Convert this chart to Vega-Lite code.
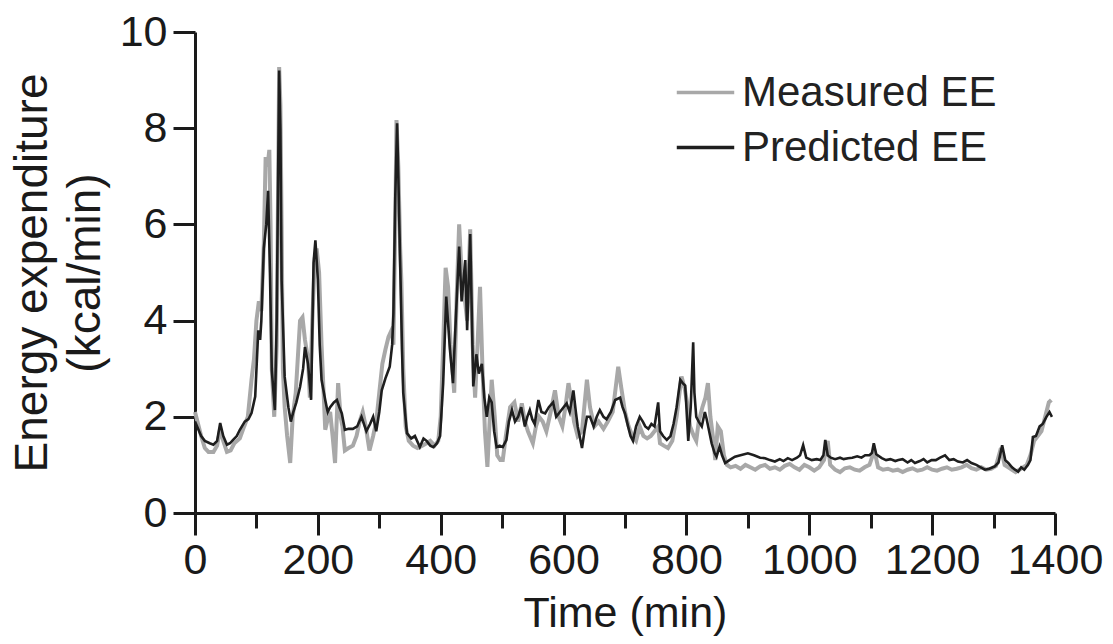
{
  "$schema": "https://vega.github.io/schema/vega-lite/v6.json",
  "width": 860,
  "height": 481,
  "autosize": "none",
  "padding": {"left": 195, "top": 32, "right": 58, "bottom": 131},
  "background": "white",
  "config": {
    "view": {"stroke": null},
    "font": "Liberation Sans",
    "axis": {"grid": false, "domainColor": "#1a1a1a", "domainWidth": 3, "tickColor": "#1a1a1a", "tickWidth": 3, "labelColor": "#1a1a1a", "titleColor": "#1a1a1a", "labelFont": "Liberation Sans", "titleFont": "Liberation Sans", "titleFontWeight": "normal"}
  },
  "datasets": {
    "measured": [
      {"t":0,"ee":2.1},{"t":4,"ee":1.9},{"t":10,"ee":1.6},{"t":16,"ee":1.35},{"t":22,"ee":1.27},{"t":30,"ee":1.27},{"t":36,"ee":1.4},{"t":41,"ee":1.75},{"t":46,"ee":1.5},{"t":52,"ee":1.27},{"t":58,"ee":1.3},{"t":64,"ee":1.45},{"t":73,"ee":1.55},{"t":80,"ee":1.8},{"t":86,"ee":2.0},{"t":92,"ee":2.77},{"t":96,"ee":3.2},{"t":100,"ee":4.0},{"t":104,"ee":4.4},{"t":108,"ee":4.2},{"t":112,"ee":5.6},{"t":115,"ee":7.4},{"t":118,"ee":7.2},{"t":121,"ee":7.55},{"t":123,"ee":6.0},{"t":125,"ee":3.0},{"t":129,"ee":2.0},{"t":133,"ee":3.5},{"t":137,"ee":9.27},{"t":139,"ee":8.5},{"t":141,"ee":6.0},{"t":143,"ee":3.0},{"t":146,"ee":2.2},{"t":150,"ee":1.6},{"t":155,"ee":1.04},{"t":159,"ee":2.0},{"t":164,"ee":2.5},{"t":171,"ee":4.0},{"t":175,"ee":4.07},{"t":179,"ee":3.6},{"t":184,"ee":3.2},{"t":187,"ee":2.4},{"t":191,"ee":4.0},{"t":195,"ee":5.3},{"t":198,"ee":5.5},{"t":202,"ee":5.0},{"t":206,"ee":3.5},{"t":212,"ee":1.73},{"t":217,"ee":2.0},{"t":220,"ee":2.1},{"t":224,"ee":1.6},{"t":228,"ee":1.04},{"t":233,"ee":2.7},{"t":237,"ee":2.0},{"t":240,"ee":1.8},{"t":244,"ee":1.3},{"t":250,"ee":1.35},{"t":257,"ee":1.4},{"t":263,"ee":1.6},{"t":268,"ee":1.9},{"t":273,"ee":2.1},{"t":278,"ee":1.8},{"t":284,"ee":1.3},{"t":290,"ee":1.6},{"t":295,"ee":1.9},{"t":300,"ee":2.5},{"t":305,"ee":3.1},{"t":310,"ee":3.4},{"t":315,"ee":3.66},{"t":320,"ee":3.8},{"t":323,"ee":3.5},{"t":326,"ee":6.0},{"t":328,"ee":8.17},{"t":331,"ee":7.2},{"t":334,"ee":5.5},{"t":336,"ee":4.8},{"t":339,"ee":3.0},{"t":343,"ee":1.8},{"t":348,"ee":1.5},{"t":355,"ee":1.4},{"t":362,"ee":1.35},{"t":370,"ee":1.4},{"t":377,"ee":1.45},{"t":383,"ee":1.5},{"t":390,"ee":1.4},{"t":396,"ee":1.5},{"t":400,"ee":2.0},{"t":404,"ee":3.5},{"t":408,"ee":5.1},{"t":412,"ee":4.7},{"t":416,"ee":3.5},{"t":422,"ee":2.5},{"t":426,"ee":4.5},{"t":430,"ee":6.0},{"t":434,"ee":5.0},{"t":438,"ee":4.6},{"t":443,"ee":4.0},{"t":448,"ee":5.9},{"t":452,"ee":3.5},{"t":456,"ee":2.4},{"t":460,"ee":3.5},{"t":464,"ee":4.7},{"t":468,"ee":3.0},{"t":472,"ee":1.7},{"t":476,"ee":0.96},{"t":480,"ee":2.0},{"t":483,"ee":2.77},{"t":488,"ee":2.0},{"t":492,"ee":1.2},{"t":497,"ee":1.1},{"t":501,"ee":1.1},{"t":506,"ee":1.6},{"t":513,"ee":2.2},{"t":520,"ee":2.3},{"t":526,"ee":1.9},{"t":532,"ee":2.28},{"t":537,"ee":1.9},{"t":542,"ee":1.7},{"t":550,"ee":1.45},{"t":555,"ee":1.8},{"t":560,"ee":2.0},{"t":566,"ee":1.9},{"t":572,"ee":1.7},{"t":579,"ee":2.1},{"t":586,"ee":2.55},{"t":592,"ee":2.0},{"t":598,"ee":1.8},{"t":603,"ee":2.2},{"t":608,"ee":2.7},{"t":613,"ee":2.3},{"t":617,"ee":1.9},{"t":623,"ee":1.6},{"t":630,"ee":1.7},{"t":638,"ee":2.77},{"t":643,"ee":2.2},{"t":650,"ee":1.8},{"t":657,"ee":1.9},{"t":665,"ee":1.75},{"t":672,"ee":1.9},{"t":680,"ee":2.1},{"t":689,"ee":3.04},{"t":694,"ee":2.6},{"t":700,"ee":2.1},{"t":706,"ee":1.8},{"t":712,"ee":1.6},{"t":718,"ee":1.5},{"t":724,"ee":1.8},{"t":730,"ee":1.6},{"t":736,"ee":1.55},{"t":742,"ee":1.6},{"t":748,"ee":1.7},{"t":754,"ee":1.8},{"t":757,"ee":1.45},{"t":763,"ee":1.4},{"t":770,"ee":1.35},{"t":777,"ee":1.5},{"t":784,"ee":2.0},{"t":792,"ee":2.84},{"t":797,"ee":2.6},{"t":801,"ee":2.3},{"t":806,"ee":1.8},{"t":812,"ee":1.6},{"t":816,"ee":1.5},{"t":820,"ee":1.9},{"t":826,"ee":2.2},{"t":831,"ee":2.4},{"t":835,"ee":2.7},{"t":839,"ee":2.0},{"t":843,"ee":1.6},{"t":847,"ee":1.1},{"t":851,"ee":1.8},{"t":856,"ee":1.7},{"t":861,"ee":1.2},{"t":866,"ee":1.0},{"t":872,"ee":0.95},{"t":880,"ee":0.98},{"t":888,"ee":0.92},{"t":896,"ee":1.0},{"t":904,"ee":0.95},{"t":912,"ee":0.9},{"t":920,"ee":0.97},{"t":928,"ee":1.0},{"t":936,"ee":0.92},{"t":944,"ee":0.95},{"t":952,"ee":0.9},{"t":960,"ee":0.98},{"t":968,"ee":1.02},{"t":976,"ee":0.95},{"t":984,"ee":0.9},{"t":992,"ee":1.0},{"t":1000,"ee":0.95},{"t":1008,"ee":0.88},{"t":1016,"ee":0.95},{"t":1024,"ee":1.1},{"t":1030,"ee":1.5},{"t":1034,"ee":1.0},{"t":1042,"ee":0.9},{"t":1050,"ee":0.85},{"t":1058,"ee":0.93},{"t":1066,"ee":0.95},{"t":1074,"ee":0.9},{"t":1082,"ee":0.88},{"t":1090,"ee":0.95},{"t":1098,"ee":1.0},{"t":1106,"ee":1.3},{"t":1112,"ee":0.95},{"t":1120,"ee":0.9},{"t":1128,"ee":0.92},{"t":1136,"ee":0.88},{"t":1144,"ee":0.9},{"t":1152,"ee":0.85},{"t":1160,"ee":0.9},{"t":1168,"ee":0.93},{"t":1176,"ee":0.88},{"t":1184,"ee":0.9},{"t":1192,"ee":0.95},{"t":1200,"ee":0.9},{"t":1208,"ee":0.88},{"t":1216,"ee":0.92},{"t":1224,"ee":0.95},{"t":1232,"ee":0.9},{"t":1240,"ee":0.92},{"t":1248,"ee":0.95},{"t":1256,"ee":1.0},{"t":1264,"ee":0.93},{"t":1272,"ee":0.9},{"t":1280,"ee":0.95},{"t":1288,"ee":0.9},{"t":1296,"ee":0.92},{"t":1304,"ee":0.98},{"t":1312,"ee":1.35},{"t":1318,"ee":1.0},{"t":1324,"ee":0.95},{"t":1330,"ee":0.9},{"t":1336,"ee":0.85},{"t":1342,"ee":0.9},{"t":1348,"ee":0.95},{"t":1354,"ee":1.0},{"t":1360,"ee":1.2},{"t":1366,"ee":1.5},{"t":1372,"ee":1.6},{"t":1378,"ee":1.7},{"t":1384,"ee":2.0},{"t":1390,"ee":2.3},{"t":1394,"ee":2.35}
    ],
    "predicted": [
      {"t":0,"ee":1.9},{"t":5,"ee":1.75},{"t":10,"ee":1.6},{"t":16,"ee":1.5},{"t":24,"ee":1.45},{"t":30,"ee":1.42},{"t":36,"ee":1.5},{"t":41,"ee":1.87},{"t":46,"ee":1.6},{"t":52,"ee":1.42},{"t":57,"ee":1.45},{"t":62,"ee":1.52},{"t":68,"ee":1.6},{"t":73,"ee":1.73},{"t":81,"ee":1.9},{"t":87,"ee":1.95},{"t":92,"ee":2.08},{"t":98,"ee":2.42},{"t":103,"ee":3.8},{"t":106,"ee":3.6},{"t":108,"ee":4.0},{"t":112,"ee":5.5},{"t":116,"ee":6.0},{"t":119,"ee":6.7},{"t":122,"ee":5.0},{"t":125,"ee":2.97},{"t":130,"ee":2.14},{"t":133,"ee":4.0},{"t":137,"ee":9.2},{"t":139,"ee":8.0},{"t":141,"ee":4.84},{"t":146,"ee":2.83},{"t":152,"ee":2.2},{"t":156,"ee":1.9},{"t":160,"ee":2.1},{"t":165,"ee":2.3},{"t":171,"ee":2.62},{"t":176,"ee":3.0},{"t":179,"ee":3.45},{"t":184,"ee":3.1},{"t":189,"ee":2.35},{"t":193,"ee":5.2},{"t":196,"ee":5.67},{"t":200,"ee":4.85},{"t":203,"ee":3.5},{"t":206,"ee":2.77},{"t":212,"ee":2.35},{"t":216,"ee":2.1},{"t":220,"ee":2.2},{"t":226,"ee":2.3},{"t":231,"ee":2.35},{"t":235,"ee":2.2},{"t":239,"ee":2.07},{"t":244,"ee":1.73},{"t":250,"ee":1.75},{"t":257,"ee":1.75},{"t":264,"ee":1.8},{"t":271,"ee":2.0},{"t":279,"ee":1.7},{"t":285,"ee":1.85},{"t":290,"ee":2.0},{"t":295,"ee":1.7},{"t":300,"ee":2.1},{"t":304,"ee":2.55},{"t":310,"ee":2.8},{"t":317,"ee":3.04},{"t":321,"ee":3.5},{"t":323,"ee":4.15},{"t":326,"ee":6.57},{"t":329,"ee":8.1},{"t":331,"ee":7.0},{"t":334,"ee":5.2},{"t":337,"ee":3.4},{"t":339,"ee":2.5},{"t":345,"ee":1.66},{"t":352,"ee":1.55},{"t":358,"ee":1.6},{"t":366,"ee":1.37},{"t":372,"ee":1.55},{"t":377,"ee":1.5},{"t":383,"ee":1.4},{"t":388,"ee":1.37},{"t":394,"ee":1.45},{"t":399,"ee":1.6},{"t":404,"ee":2.7},{"t":409,"ee":4.5},{"t":415,"ee":3.4},{"t":420,"ee":2.7},{"t":423,"ee":3.6},{"t":426,"ee":4.43},{"t":430,"ee":5.54},{"t":434,"ee":4.4},{"t":440,"ee":5.26},{"t":443,"ee":3.8},{"t":448,"ee":5.8},{"t":453,"ee":2.63},{"t":458,"ee":3.3},{"t":462,"ee":2.9},{"t":467,"ee":3.1},{"t":471,"ee":2.4},{"t":475,"ee":2.0},{"t":479,"ee":2.4},{"t":483,"ee":2.3},{"t":487,"ee":1.7},{"t":491,"ee":1.37},{"t":496,"ee":1.4},{"t":501,"ee":1.37},{"t":507,"ee":1.52},{"t":511,"ee":1.9},{"t":516,"ee":2.14},{"t":521,"ee":1.9},{"t":526,"ee":2.0},{"t":531,"ee":2.2},{"t":537,"ee":1.8},{"t":541,"ee":2.0},{"t":545,"ee":2.14},{"t":549,"ee":1.95},{"t":553,"ee":1.85},{"t":559,"ee":2.35},{"t":564,"ee":2.1},{"t":570,"ee":2.07},{"t":576,"ee":2.2},{"t":583,"ee":2.3},{"t":588,"ee":2.0},{"t":594,"ee":2.1},{"t":600,"ee":2.2},{"t":605,"ee":2.28},{"t":610,"ee":2.1},{"t":616,"ee":2.55},{"t":620,"ee":2.1},{"t":623,"ee":1.8},{"t":630,"ee":1.35},{"t":634,"ee":1.7},{"t":638,"ee":2.0},{"t":643,"ee":2.0},{"t":649,"ee":1.8},{"t":654,"ee":2.0},{"t":659,"ee":2.14},{"t":665,"ee":2.0},{"t":670,"ee":1.95},{"t":677,"ee":2.1},{"t":684,"ee":2.35},{"t":692,"ee":2.4},{"t":696,"ee":2.2},{"t":700,"ee":2.07},{"t":705,"ee":1.8},{"t":709,"ee":1.6},{"t":713,"ee":1.5},{"t":718,"ee":1.8},{"t":724,"ee":2.0},{"t":729,"ee":1.9},{"t":733,"ee":1.8},{"t":738,"ee":1.75},{"t":743,"ee":1.85},{"t":748,"ee":1.8},{"t":754,"ee":2.3},{"t":757,"ee":1.7},{"t":762,"ee":1.6},{"t":768,"ee":1.52},{"t":774,"ee":1.6},{"t":779,"ee":1.85},{"t":784,"ee":2.2},{"t":790,"ee":2.77},{"t":794,"ee":2.7},{"t":798,"ee":2.65},{"t":803,"ee":1.5},{"t":807,"ee":2.2},{"t":811,"ee":3.55},{"t":813,"ee":2.5},{"t":816,"ee":2.0},{"t":820,"ee":1.9},{"t":825,"ee":1.8},{"t":830,"ee":2.1},{"t":833,"ee":1.95},{"t":837,"ee":1.7},{"t":841,"ee":1.45},{"t":846,"ee":1.24},{"t":849,"ee":1.17},{"t":854,"ee":1.38},{"t":858,"ee":1.2},{"t":863,"ee":1.04},{"t":870,"ee":1.1},{"t":879,"ee":1.17},{"t":888,"ee":1.2},{"t":900,"ee":1.24},{"t":910,"ee":1.2},{"t":920,"ee":1.15},{"t":928,"ee":1.14},{"t":936,"ee":1.1},{"t":944,"ee":1.07},{"t":952,"ee":1.12},{"t":958,"ee":1.08},{"t":965,"ee":1.14},{"t":972,"ee":1.1},{"t":980,"ee":1.15},{"t":985,"ee":1.2},{"t":990,"ee":1.41},{"t":995,"ee":1.15},{"t":1004,"ee":1.1},{"t":1012,"ee":1.12},{"t":1018,"ee":1.1},{"t":1023,"ee":1.2},{"t":1026,"ee":1.52},{"t":1030,"ee":1.2},{"t":1035,"ee":1.15},{"t":1042,"ee":1.12},{"t":1050,"ee":1.15},{"t":1056,"ee":1.12},{"t":1063,"ee":1.14},{"t":1070,"ee":1.15},{"t":1078,"ee":1.18},{"t":1085,"ee":1.15},{"t":1091,"ee":1.2},{"t":1098,"ee":1.2},{"t":1102,"ee":1.25},{"t":1105,"ee":1.45},{"t":1109,"ee":1.22},{"t":1118,"ee":1.14},{"t":1125,"ee":1.1},{"t":1132,"ee":1.12},{"t":1140,"ee":1.08},{"t":1145,"ee":1.1},{"t":1152,"ee":1.12},{"t":1160,"ee":1.05},{"t":1166,"ee":1.1},{"t":1172,"ee":1.04},{"t":1180,"ee":1.08},{"t":1186,"ee":1.12},{"t":1192,"ee":1.05},{"t":1199,"ee":1.1},{"t":1206,"ee":1.1},{"t":1213,"ee":1.15},{"t":1221,"ee":1.2},{"t":1228,"ee":1.1},{"t":1235,"ee":1.12},{"t":1242,"ee":1.07},{"t":1250,"ee":1.05},{"t":1257,"ee":1.1},{"t":1264,"ee":1.04},{"t":1272,"ee":1.0},{"t":1279,"ee":0.95},{"t":1286,"ee":0.9},{"t":1293,"ee":0.92},{"t":1302,"ee":0.97},{"t":1308,"ee":1.05},{"t":1314,"ee":1.41},{"t":1319,"ee":1.1},{"t":1324,"ee":1.04},{"t":1330,"ee":0.95},{"t":1335,"ee":0.9},{"t":1340,"ee":0.86},{"t":1345,"ee":0.95},{"t":1350,"ee":0.9},{"t":1356,"ee":1.0},{"t":1360,"ee":1.1},{"t":1364,"ee":1.58},{"t":1369,"ee":1.6},{"t":1375,"ee":1.8},{"t":1380,"ee":1.85},{"t":1386,"ee":2.0},{"t":1391,"ee":2.1},{"t":1395,"ee":2.0}
    ]
  },
  "encoding": {
    "x": {
      "field": "t", "type": "quantitative",
      "scale": {"domain": [0, 1400], "nice": false, "zero": false},
      "axis": {
        "title": "Time (min)", "titleFontSize": 43, "titlePadding": 10,
        "values": [0,100,200,300,400,500,600,700,800,900,1000,1100,1200,1300,1400],
        "labelExpr": "datum.value % 200 === 0 ? datum.label : ''",
        "format": "d",
        "tickSize": {"condition": {"test": "datum.value % 200 === 0", "value": 22}, "value": 15},
        "labelFontSize": 43, "labelPadding": 4, "labelFlush": false, "labelOverlap": false, "labelBound": false
      }
    },
    "y": {
      "field": "ee", "type": "quantitative",
      "scale": {"domain": [0, 10], "nice": false},
      "axis": {
        "title": ["Energy expenditure", "(kcal/min)"], "titleFontSize": 46, "titleLineHeight": 53, "titlePadding": 10,
        "values": [0,2,4,6,8,10], "tickSize": 22, "labelFontSize": 43, "labelPadding": 6, "labelFlush": false
      }
    },
    "color": {
      "type": "nominal",
      "scale": {"domain": ["Measured EE", "Predicted EE"], "range": ["#a8a8a8", "#1e1e1e"]},
      "legend": {
        "title": null, "orient": "none", "legendX": 480, "legendY": 30,
        "symbolType": "stroke", "symbolSize": 3300, "symbolStrokeWidth": 3.5,
        "labelFontSize": 42, "labelColor": "#222", "labelOffset": 6, "labelLimit": 0, "rowPadding": 3, "padding": 0
      }
    }
  },
  "layer": [
    {"data": {"name": "measured"}, "mark": {"type": "line", "strokeWidth": 4, "interpolate": "linear"}, "encoding": {"color": {"datum": "Measured EE"}}},
    {"data": {"name": "predicted"}, "mark": {"type": "line", "strokeWidth": 2.6, "interpolate": "linear"}, "encoding": {"color": {"datum": "Predicted EE"}}}
  ]
}
